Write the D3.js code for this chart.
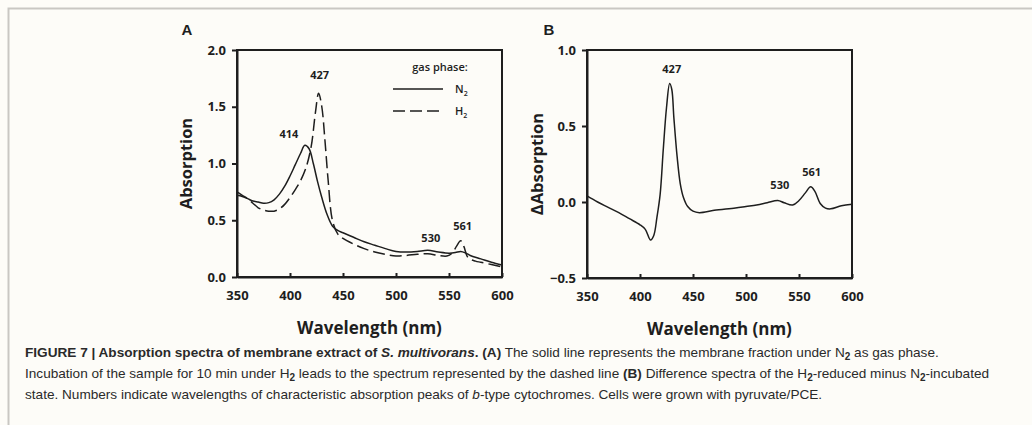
<!DOCTYPE html>
<html>
<head>
<meta charset="utf-8">
<script src="https://cdn.jsdelivr.net/npm/d3@7"></script>
<style>
  body { margin: 0; background: #fdfcf8; }
  svg { display: block; }
</style>
</head>
<body>
<div id="fig"></div>
<script>
// Data
// ================================
var xTicks = [350, 400, 450, 500, 550, 600];
var yTicksA = [0, 0.5, 1.0, 1.5, 2.0];
var yTicksB = [-0.5, 0, 0.5, 1.0];

// panel A, N2 (solid)
var n2Wave = [350, 355, 360, 365, 370, 375, 380, 385, 390, 395, 400, 405, 410, 414, 418, 422, 426, 430, 435, 440, 445, 450, 460, 470, 480, 490, 500, 510, 520, 530, 540, 550, 556, 561, 566, 570, 580, 590, 600];
var n2Abs = [0.72, 0.71, 0.69, 0.67, 0.66, 0.65, 0.655, 0.68, 0.73, 0.80, 0.89, 0.99, 1.09, 1.16, 1.13, 1.00, 0.84, 0.70, 0.55, 0.45, 0.41, 0.39, 0.35, 0.31, 0.28, 0.25, 0.225, 0.22, 0.225, 0.235, 0.22, 0.21, 0.215, 0.225, 0.21, 0.19, 0.16, 0.13, 0.105];

// panel A, H2 (dashed)
var h2Wave = [350, 355, 360, 365, 370, 375, 380, 385, 390, 395, 400, 405, 410, 415, 420, 424, 427, 430, 433, 436, 440, 445, 450, 460, 470, 480, 490, 500, 510, 520, 530, 540, 548, 553, 557, 561, 564, 568, 575, 580, 590, 600];
var h2Abs = [0.75, 0.72, 0.69, 0.65, 0.61, 0.59, 0.58, 0.58, 0.60, 0.64, 0.70, 0.77, 0.85, 0.96, 1.15, 1.45, 1.62, 1.50, 1.20, 0.85, 0.50, 0.38, 0.34, 0.29, 0.25, 0.22, 0.20, 0.185, 0.19, 0.20, 0.205, 0.19, 0.185, 0.21, 0.27, 0.32, 0.27, 0.17, 0.14, 0.13, 0.11, 0.09];

// panel B, H2 minus N2 difference
var diffWave = [350, 360, 370, 380, 390, 400, 405, 410, 413, 416, 419, 422, 425, 428, 430, 432, 435, 438, 441, 445, 450, 456, 470, 490, 500, 510, 520, 530, 536, 544, 550, 556, 561, 565, 570, 575, 580, 590, 600];
var diffAbs = [0.04, 0.0, -0.035, -0.07, -0.11, -0.15, -0.18, -0.25, -0.22, -0.10, 0.05, 0.35, 0.62, 0.78, 0.74, 0.55, 0.30, 0.12, 0.03, -0.03, -0.06, -0.07, -0.055, -0.04, -0.03, -0.02, -0.005, 0.01, -0.005, -0.02, 0.01, 0.06, 0.10, 0.07, -0.01, -0.04, -0.045, -0.025, -0.015];

var peaksA = [[414, 1.16, "414"], [427, 1.62, "427"], [530, 0.235, "530"], [561, 0.32, "561"]];
var peaksB = [[429, 0.78, "427"], [530, 0.01, "530"], [561, 0.10, "561"]];

// Set up the page
// ================================
var svgWidth = 1032;
var svgHeight = 425;
var ink = "#1e1e1e";
var chartFont = "'Open Sans', sans-serif";

var svg = d3.select("#fig")
  .append("svg")
  .attr("width", svgWidth)
  .attr("height", svgHeight);

svg.append("rect")
  .attr("x", 8.5).attr("y", 8.5)
  .attr("width", 1040).attr("height", 440)
  .attr("fill", "#fdfcf8")
  .attr("stroke", "#c9c7c3")
  .attr("stroke-width", 2);

function zip(xs, ys) {
  return xs.map((x, i) => ({ x: x, y: ys[i] }));
}

// draw one panel
function panel(opts) {
  var x = d3.scaleLinear().domain([350, 600]).range([opts.left, opts.right]);
  var y = d3.scaleLinear().domain(opts.yDomain).range([opts.bottom, opts.top]);
  var g = svg.append("g");

  // frame
  g.append("rect")
    .attr("x", opts.left).attr("y", opts.top)
    .attr("width", opts.right - opts.left)
    .attr("height", opts.bottom - opts.top)
    .attr("fill", "none")
    .attr("stroke", ink)
    .attr("stroke-width", 2);

  var bottomAxis = d3.axisBottom(x).tickValues(xTicks).tickSizeInner(-4).tickSizeOuter(0).tickPadding(14);
  var leftAxis = d3.axisLeft(y).tickValues(opts.yTicks).tickSizeInner(5).tickSizeOuter(0)
    .tickFormat(d3.format(".1f")).tickPadding(6);

  var xa = g.append("g").attr("transform", `translate(0, ${opts.bottom})`).call(bottomAxis);
  var ya = g.append("g").attr("transform", `translate(${opts.left}, 0)`).call(leftAxis);
  [xa, ya].forEach(function(a) {
    a.select(".domain").attr("stroke", ink).attr("stroke-width", 2);
    a.selectAll(".tick line").attr("stroke", ink).attr("stroke-width", 2);
    a.selectAll("text")
      .attr("font-family", chartFont)
      .attr("font-weight", 700)
      .attr("font-size", "13px")
      .attr("fill", ink);
  });

  // x title
  g.append("text")
    .attr("x", (opts.left + opts.right) / 2)
    .attr("y", opts.bottom + 57)
    .attr("text-anchor", "middle")
    .attr("font-family", chartFont)
    .attr("font-weight", 700)
    .attr("font-size", "17px")
    .attr("fill", ink)
    .text("Wavelength (nm)");

  // y title
  g.append("text")
    .attr("transform", `translate(${opts.left - opts.titleOffset}, ${(opts.top + opts.bottom) / 2}) rotate(-90)`)
    .attr("text-anchor", "middle")
    .attr("font-family", chartFont)
    .attr("font-weight", 700)
    .attr("font-size", "16.5px")
    .attr("fill", ink)
    .text(opts.yTitle);

  // panel letter
  g.append("text")
    .attr("x", opts.letterX).attr("y", 35)
    .attr("text-anchor", "middle")
    .attr("font-family", "'Liberation Sans', Arial, sans-serif")
    .attr("font-weight", 700)
    .attr("font-size", "15px")
    .attr("fill", ink)
    .text(opts.letter);

  var line = d3.line()
    .x(d => x(d.x))
    .y(d => y(d.y))
    .curve(d3.curveCatmullRom.alpha(0.5));

  opts.series.forEach(function(s) {
    g.append("path")
      .datum(s.data)
      .attr("d", line)
      .attr("fill", "none")
      .attr("stroke", ink)
      .attr("stroke-width", 1.5)
      .attr("stroke-dasharray", s.dash || null);
  });

  // peak labels
  g.selectAll(".peak")
    .data(opts.peaks)
    .enter()
    .append("text")
    .attr("class", "peak")
    .attr("x", (d, i) => x(d[0]) + opts.labelDx[i])
    .attr("y", (d, i) => y(d[1]) + opts.labelDy[i])
    .attr("text-anchor", "middle")
    .attr("font-family", chartFont)
    .attr("font-weight", 700)
    .attr("font-size", "11px")
    .attr("fill", ink)
    .text(d => d[2]);

  return { x: x, y: y, g: g };
}

var pA = panel({
  left: 237, right: 502, top: 50, bottom: 277,
  yDomain: [0, 2], yTicks: yTicksA, yTitle: "Absorption", titleOffset: 45,
  letter: "A", letterX: 187,
  series: [
    { data: zip(n2Wave, n2Abs) },
    { data: zip(h2Wave, h2Abs), dash: "12,5" }
  ],
  peaks: peaksA,
  labelDx: [-16, 1, 3, 2],
  labelDy: [-7, -14, -8, -11]
});

var pB = panel({
  left: 587, right: 852, top: 50, bottom: 278,
  yDomain: [-0.5, 1], yTicks: yTicksB, yTitle: "\u0394Absorption", titleOffset: 44,
  letter: "B", letterX: 549,
  series: [{ data: zip(diffWave, diffAbs) }],
  peaks: peaksB,
  labelDx: [1, 2, 1],
  labelDy: [-10, -11, -11]
});

// legend in panel A
var legend = pA.g.append("g");
legend.append("text")
  .attr("x", 440).attr("y", 71)
  .attr("text-anchor", "middle")
  .attr("font-family", chartFont)
  .attr("font-weight", 600)
  .attr("font-size", "11px")
  .attr("fill", ink)
  .text("gas phase:");
[["N", 89, null], ["H", 111, "12,5"]].forEach(function(d) {
  legend.append("line")
    .attr("x1", 393).attr("x2", 443)
    .attr("y1", d[1]).attr("y2", d[1])
    .attr("stroke", ink)
    .attr("stroke-width", 1.5)
    .attr("stroke-dasharray", d[2]);
  var t = legend.append("text")
    .attr("x", 455).attr("y", d[1] + 4)
    .attr("font-family", chartFont)
    .attr("font-weight", 600)
    .attr("font-size", "11px")
    .attr("fill", ink)
    .text(d[0]);
  t.append("tspan").attr("dy", 3).attr("font-size", "7px").text("2");
});

// caption
var capFont = "'Liberation Sans', Arial, sans-serif";
var cap = svg.append("g")
  .attr("font-family", capFont)
  .attr("font-size", "13.6px")
  .attr("fill", "#2a2a2a");

// parts: [text, style] where style is "b", "bi", "i", "sub" or ""
function captionLine(y, parts) {
  var t = cap.append("text").attr("x", 25).attr("y", y);
  var shifted = false;
  parts.forEach(function(p) {
    var s = t.append("tspan").text(p[0]);
    var st = p[1] || "";
    if (st === "sub") {
      s.attr("dy", 3).attr("font-size", "10px");
      shifted = true;
    } else if (shifted) {
      s.attr("dy", -3);
      shifted = false;
    }
    if (st.indexOf("b") >= 0) s.attr("font-weight", 700);
    if (st.indexOf("i") >= 0) s.attr("font-style", "italic");
  });
}

captionLine(357, [
  ["FIGURE 7 | Absorption spectra of membrane extract of ", "b"],
  ["S. multivorans", "bi"],
  [". (A)", "b"],
  [" The solid line represents the membrane fraction under N"],
  ["2", "sub"],
  [" as gas phase."]
]);
captionLine(378, [
  ["Incubation of the sample for 10 min under H"],
  ["2", "sub"],
  [" leads to the spectrum represented by the dashed line "],
  ["(B)", "b"],
  [" Difference spectra of the H"],
  ["2", "sub"],
  ["-reduced minus N"],
  ["2", "sub"],
  ["-incubated"]
]);
captionLine(399, [
  ["state. Numbers indicate wavelengths of characteristic absorption peaks of "],
  ["b", "i"],
  ["-type cytochromes. Cells were grown with pyruvate/PCE."]
]);
</script>
</body>
</html>
